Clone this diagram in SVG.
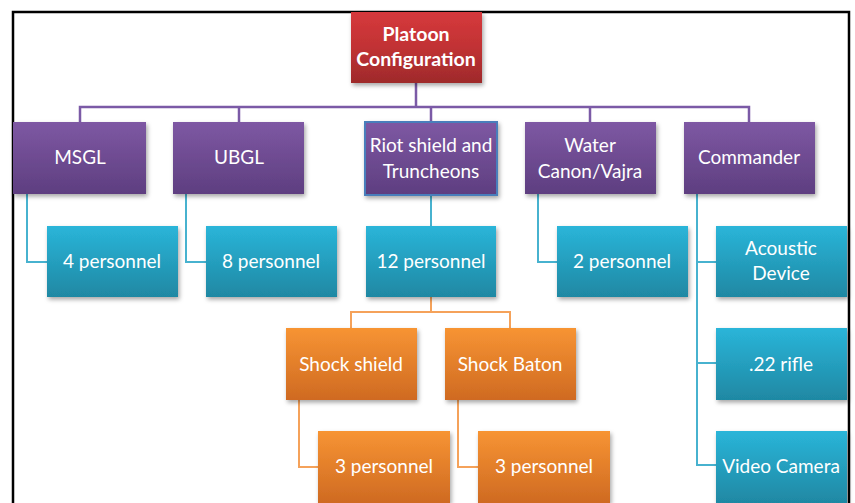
<svg xmlns="http://www.w3.org/2000/svg" width="855" height="503" viewBox="0 0 855 503">
<defs>
<linearGradient id="gRed" x1="0" y1="0" x2="0" y2="1"><stop offset="0" stop-color="#d6393c"/><stop offset="0.5" stop-color="#c13234"/><stop offset="1" stop-color="#9e2a2b"/></linearGradient>
<linearGradient id="gPur" x1="0" y1="0" x2="0" y2="1"><stop offset="0" stop-color="#7e58a3"/><stop offset="1" stop-color="#5e3e80"/></linearGradient>
<linearGradient id="gTeal" x1="0" y1="0" x2="0" y2="1"><stop offset="0" stop-color="#2ab5d9"/><stop offset="1" stop-color="#1f88a3"/></linearGradient>
<linearGradient id="gOr" x1="0" y1="0" x2="0" y2="1"><stop offset="0" stop-color="#f79433"/><stop offset="1" stop-color="#cf6a22"/></linearGradient>
<filter id="sh" x="-10%" y="-10%" width="125%" height="130%"><feDropShadow dx="1.5" dy="2.5" stdDeviation="2" flood-color="#000" flood-opacity="0.35"/></filter>
</defs>
<style>
text{font-family:Lato,"Open Sans","Liberation Sans",sans-serif;font-size:19px;fill:#fff;text-anchor:middle}
.b{font-weight:bold;font-size:19.5px}
.red{fill:url(#gRed)}
.pur{fill:url(#gPur)}
.teal{fill:url(#gTeal)}
.or{fill:url(#gOr)}
rect{filter:url(#sh)}
.cp{stroke:#7b5aa6;stroke-width:2.5;fill:none}
.ct{stroke:#47b2cf;stroke-width:2;fill:none}
.co{stroke:#f5a25a;stroke-width:2;fill:none}
</style>
<rect width="855" height="503" fill="#fff" style="filter:none"/>
<path d="M13,503 V12 H849 V503" fill="none" stroke="#000" stroke-width="2.5"/>
<g id="connectors">
<path class="cp" d="M416,83 V107 M80,122 V107 H749 V122 M239,107 V122 M431,107 V122 M590,107 V122"/>
<path class="ct" d="M27,194 V262 H47 M186,194 V262 H206 M431,195 V226 M538,194 V262 H557 M697,194 V465 H716 M697,262 H716 M697,363 H716"/>
<path class="co" d="M431,297 V312 M351,328 V312 H510 V328 M299,400 V467 H318 M458,400 V467 H478"/>
</g>
<g id="platoon"><rect class="red" x="351" y="12" width="131" height="71"/><text class="b" x="416" y="41">Platoon</text><text class="b" x="416" y="66">Configuration</text></g>
<g id="msgl"><rect class="pur" x="13" y="122" width="133" height="72"/><text x="80" y="164">MSGL</text></g>
<g id="ubgl"><rect class="pur" x="173" y="122" width="131" height="72"/><text x="239" y="164">UBGL</text></g>
<g id="riot"><rect class="pur" x="365" y="122" width="132" height="73" stroke="#4a7ebb" stroke-width="2"/><text x="431" y="152">Riot shield and</text><text x="431" y="178">Truncheons</text></g>
<g id="water"><rect class="pur" x="525" y="122" width="131" height="72"/><text x="590" y="152">Water</text><text x="590" y="178">Canon/Vajra</text></g>
<g id="commander"><rect class="pur" x="684" y="122" width="131" height="72"/><text x="749" y="164">Commander</text></g>
<g id="p4"><rect class="teal" x="47" y="226" width="131" height="71"/><text x="112" y="268">4 personnel</text></g>
<g id="p8"><rect class="teal" x="206" y="226" width="131" height="71"/><text x="271" y="268">8 personnel</text></g>
<g id="p12"><rect class="teal" x="366" y="226" width="130" height="71"/><text x="431" y="268">12 personnel</text></g>
<g id="p2"><rect class="teal" x="557" y="226" width="131" height="71"/><text x="622" y="268">2 personnel</text></g>
<g id="acoustic"><rect class="teal" x="716" y="226" width="131" height="71"/><text x="781" y="255">Acoustic</text><text x="781" y="280">Device</text></g>
<g id="rifle"><rect class="teal" x="716" y="328" width="131" height="72"/><text x="781" y="371">.22 rifle</text></g>
<g id="camera"><rect class="teal" x="716" y="431" width="131" height="72"/><text x="781" y="473">Video Camera</text></g>
<g id="shockshield"><rect class="or" x="286" y="328" width="131" height="72"/><text x="351" y="371">Shock shield</text></g>
<g id="shockbaton"><rect class="or" x="445" y="328" width="131" height="72"/><text x="510" y="371">Shock Baton</text></g>
<g id="p3a"><rect class="or" x="318" y="431" width="132" height="72"/><text x="384" y="473">3 personnel</text></g>
<g id="p3b"><rect class="or" x="478" y="431" width="132" height="72"/><text x="544" y="473">3 personnel</text></g>
</svg>
